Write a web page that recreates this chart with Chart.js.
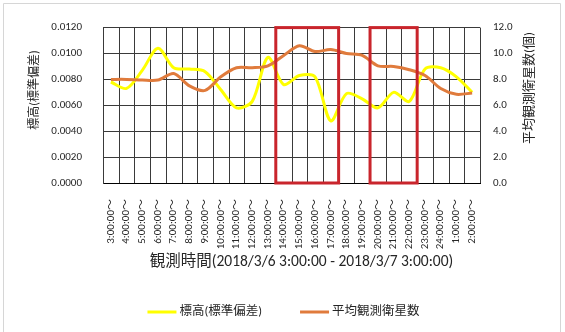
<!DOCTYPE html>
<html>
<head>
<meta charset="utf-8">
<script src="https://cdn.jsdelivr.net/npm/chart.js@4/dist/chart.umd.min.js"></script>
<style>
  html, body { margin: 0; padding: 0; background: #fff; }
  #wrap { width: 565px; height: 332px; }
</style>
</head>
<body>
<div id="wrap"><canvas id="c" width="565" height="332"></canvas></div>
<script>
// Observation hour buckets (2018/3/6 3:00 – 2018/3/7 3:00)
const hours = [
  '3:00:00～', '4:00:00～', '5:00:00～', '6:00:00～', '7:00:00～', '8:00:00～',
  '9:00:00～', '10:00:00～', '11:00:00～', '12:00:00～', '13:00:00～', '14:00:00～',
  '15:00:00～', '16:00:00～', '17:00:00～', '18:00:00～', '19:00:00～', '20:00:00～',
  '21:00:00～', '22:00:00～', '23:00:00～', '24:00:00～', '1:00:00～', '2:00:00～'
];

// Height standard deviation (left axis)
const heightStdDev = [
  0.0078, 0.0073, 0.0087, 0.0104, 0.0089, 0.0088,
  0.0086, 0.0072, 0.0058, 0.0063, 0.0097, 0.0076,
  0.0083, 0.0082, 0.0048, 0.0069, 0.0065, 0.0058,
  0.0070, 0.0063, 0.0088, 0.0089, 0.0082, 0.0070
];

// Average number of observed satellites (right axis)
const avgSatellites = [
  8.0, 8.0, 7.95, 7.95, 8.45, 7.5,
  7.15, 8.2, 8.9, 8.9, 9.05, 9.85,
  10.6, 10.15, 10.3, 10.0, 9.85, 9.05,
  9.0, 8.75, 8.3, 7.3, 6.85, 6.95
];

const seriesNames = ['標高(標準偏差)', '平均観測衛星数'];
const seriesColors = ['#FFFF00', '#E07B3C'];

// Hour ranges boxed in red
const highlightRanges = [
  ['14:00:00～', '17:00:00～'],
  ['20:00:00～', '22:00:00～']
];

const axisTitles = {
  x: '観測時間(2018/3/6 3:00:00 - 2018/3/7 3:00:00)',
  left: '標高(標準偏差)',
  right: '平均観測衛星数(個)'
};

const FONT = 'Carlito, "Liberation Sans", "Noto Sans CJK JP", sans-serif';
const TEXT = '#262626';
const GRID = '#3a3a3a';

const decor = {
  id: 'decor',
  beforeDraw(chart) {
    const ctx = chart.ctx;
    ctx.save();
    ctx.fillStyle = '#fff';
    ctx.fillRect(0, 0, chart.width, chart.height);
    ctx.restore();
  },
  beforeDatasetsDraw(chart) {
    // vertical grid lines on the category boundaries
    const ctx = chart.ctx;
    const xs = chart.scales.x;
    const area = chart.chartArea;
    const half = (xs.getPixelForValue(1) - xs.getPixelForValue(0)) / 2;
    ctx.save();
    ctx.strokeStyle = GRID;
    ctx.lineWidth = 1;
    ctx.beginPath();
    for (let i = 0; i <= hours.length; i++) {
      const px = Math.round(xs.getPixelForValue(i) - half) + 0.5;
      ctx.moveTo(px, area.top);
      ctx.lineTo(px, area.bottom);
    }
    ctx.stroke();
    ctx.restore();
  },
  afterDatasetsDraw(chart) {
    const ctx = chart.ctx;
    const xs = chart.scales.x;
    const area = chart.chartArea;
    const half = (xs.getPixelForValue(1) - xs.getPixelForValue(0)) / 2;
    ctx.save();
    ctx.strokeStyle = '#C9252C';
    ctx.lineWidth = 3;
    highlightRanges.forEach(([a, b]) => {
      const l = xs.getPixelForValue(hours.indexOf(a)) - half;
      const r = xs.getPixelForValue(hours.indexOf(b)) + half;
      ctx.strokeRect(l, area.top, r - l, area.bottom - area.top);
    });
    ctx.restore();
  },
  afterDraw(chart) {
    const ctx = chart.ctx;
    const area = chart.chartArea;
    const cx = (area.left + area.right) / 2;
    ctx.save();
    ctx.fillStyle = TEXT;
    ctx.textBaseline = 'middle';
    ctx.textAlign = 'center';

    // x axis title
    ctx.font = '15.5px ' + FONT;
    ctx.fillText(axisTitles.x, cx + 10, 262);

    // left axis title (reads bottom to top)
    ctx.save();
    ctx.translate(35, 90);
    ctx.rotate(-Math.PI / 2);
    ctx.font = '12px ' + FONT;
    ctx.fillText(axisTitles.left, 0, 0);
    ctx.restore();

    // right axis title (reads bottom to top)
    ctx.save();
    ctx.translate(530, 88);
    ctx.rotate(-Math.PI / 2);
    ctx.font = '13px ' + FONT;
    ctx.fillText(axisTitles.right, 0, 0);
    ctx.restore();

    // legend
    ctx.font = '12.5px ' + FONT;
    ctx.textAlign = 'left';
    const sample = 29, gap = 3, itemGap = 38, ly = 312;
    const widths = seriesNames.map(n => ctx.measureText(n).width);
    const total = widths.reduce((s, w) => s + sample + gap + w, 0) + itemGap * (seriesNames.length - 1);
    let x = cx - 8 - total / 2;
    seriesNames.forEach((n, i) => {
      ctx.strokeStyle = seriesColors[i];
      ctx.lineWidth = 3;
      ctx.beginPath();
      ctx.moveTo(x, ly);
      ctx.lineTo(x + sample, ly);
      ctx.stroke();
      ctx.fillStyle = TEXT;
      ctx.fillText(n, x + sample + gap, ly);
      x += sample + gap + widths[i] + itemGap;
    });

    // chart frame
    ctx.strokeStyle = '#d6d6d6';
    ctx.lineWidth = 1;
    ctx.beginPath();
    ctx.moveTo(3.5, chart.height);
    ctx.lineTo(3.5, 3.5);
    ctx.lineTo(560.5, 3.5);
    ctx.lineTo(560.5, chart.height);
    ctx.stroke();
    ctx.restore();
  }
};

new Chart(document.getElementById('c'), {
  type: 'line',
  data: {
    labels: hours,
    datasets: [
      {
        label: seriesNames[0],
        data: heightStdDev,
        yAxisID: 'y',
        borderColor: seriesColors[0],
        borderWidth: 3,
        pointRadius: 0,
        tension: 0.3,
        order: 1
      },
      {
        label: seriesNames[1],
        data: avgSatellites,
        yAxisID: 'y2',
        borderColor: seriesColors[1],
        borderWidth: 3,
        pointRadius: 0,
        tension: 0.3,
        order: 0
      }
    ]
  },
  options: {
    responsive: false,
    devicePixelRatio: 1,
    animation: false,
    layout: { padding: { left: 0, right: 0, top: 20, bottom: 49 } },
    plugins: {
      legend: { display: false },
      tooltip: { enabled: false }
    },
    scales: {
      x: {
        type: 'category',
        offset: true,
        grid: { display: false },
        border: { display: true, color: '#000', width: 1 },
        ticks: {
          autoSkip: false, maxRotation: 90, minRotation: 90, padding: 8,
          color: TEXT, font: { family: FONT, size: 11 }
        },
        afterFit(s) { s.height = 100; }
      },
      y: {
        position: 'left',
        min: 0, max: 0.012,
        grid: { color: GRID, lineWidth: 1, drawTicks: false },
        border: { color: GRID, width: 1 },
        ticks: {
          stepSize: 0.002, padding: 21, color: TEXT,
          font: { family: FONT, size: 11 },
          callback: v => Number(v).toFixed(4)
        },
        afterFit(s) { s.width = 103; }
      },
      y2: {
        position: 'right',
        min: 0, max: 12,
        grid: { drawOnChartArea: false, drawTicks: false },
        border: { display: false },
        ticks: {
          stepSize: 2, padding: 13, color: TEXT,
          font: { family: FONT, size: 11 },
          callback: v => Number(v).toFixed(1)
        },
        afterFit(s) { s.width = 85; }
      }
    }
  },
  plugins: [decor]
});
</script>
</body>
</html>
